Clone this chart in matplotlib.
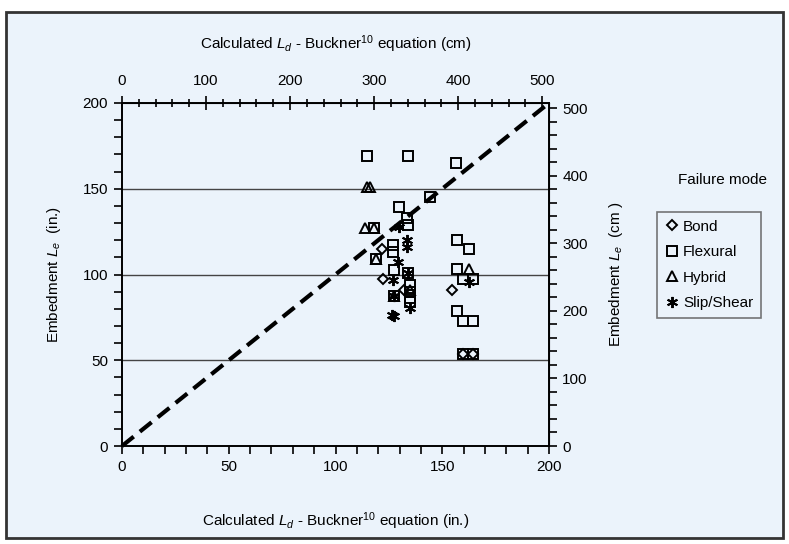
import matplotlib
matplotlib.use("Agg")
import matplotlib.pyplot as plt
from matplotlib import ticker
from matplotlib.patches import Rectangle

plt.rcParams['font.family'] = ['Liberation Sans', 'DejaVu Sans']
plt.rcParams['mathtext.fontset'] = 'custom'
plt.rcParams['mathtext.rm'] = 'Liberation Sans'
plt.rcParams['mathtext.it'] = 'Liberation Sans:italic'

CM_PER_IN = 2.54

# calculated development length (in.) vs. embedment (in.), grouped by failure mode
bond_x = [122.0, 122.3, 132.3, 154.8, 159.8, 164.5]
bond_y = [114.9, 97.1, 91.1, 90.8, 53.8, 53.8]

flex_x = [114.6, 133.9, 156.4, 144.2, 129.7, 133.3, 134.1, 118.1, 127.0, 127.0,
          118.9, 127.3, 134.0, 134.7, 134.7, 134.7, 134.7, 127.5, 157.0, 162.3,
          157.0, 159.8, 164.5, 157.0, 159.8, 164.5, 159.8, 164.5]
flex_y = [169.3, 169.3, 164.9, 145.1, 139.2, 132.8, 128.9, 127.0, 117.3, 113.4,
          109.1, 102.7, 100.6, 94.0, 90.0, 86.5, 84.0, 87.2, 120.2, 114.9,
          103.1, 97.3, 97.3, 79.0, 73.0, 73.0, 53.8, 53.8]

hyb_x = [114.6, 116.1, 113.8, 118.1, 118.9, 162.3, 127.5, 134.7]
hyb_y = [151.0, 151.0, 127.0, 127.0, 109.1, 103.1, 87.5, 91.0]

slip_x = [129.8, 133.3, 133.3, 129.4, 127.0, 134.8, 127.3, 126.5, 162.3, 134.0, 127.5]
slip_y = [127.9, 120.3, 116.3, 107.5, 96.9, 80.4, 75.9, 76.5, 95.9, 100.6, 87.6]

fig = plt.figure(figsize=(7.89, 5.44), dpi=100, facecolor='white')
fig.patches.append(Rectangle((6 / 789, 6 / 544), 777 / 789, 526 / 544,
                             transform=fig.transFigure, facecolor='#ebf3fb',
                             edgecolor='#333333', linewidth=2, zorder=-10))

ax = fig.add_axes([122 / 789, 1 - 446 / 544, 427 / 789, 343 / 544])
ax.set_facecolor('#ebf3fb')
ax.set_xlim(0, 200)
ax.set_ylim(0, 200)

for g in [50, 100, 150]:
    ax.axhline(g, color='#444444', linewidth=1, zorder=1)

ax.plot([0, 200], [0, 200], color='black', linewidth=3, dashes=(3.6, 1.9),
        zorder=2, clip_on=False)

mk = dict(linestyle='none', markerfacecolor='none', markeredgecolor='black',
          markeredgewidth=1.4, zorder=3)
ax.plot(bond_x, bond_y, marker='D', markersize=5.5, label='Bond', **mk)
ax.plot(flex_x, flex_y, marker='s', markersize=6.5, label='Flexural', **mk)
ax.plot(hyb_x, hyb_y, marker='^', markersize=7, label='Hybrid', **mk)
ax.plot(slip_x, slip_y, marker=(6, 2, 0), markersize=8, label='Slip/Shear', **mk)

ax.xaxis.set_major_locator(ticker.MultipleLocator(50))
ax.xaxis.set_minor_locator(ticker.MultipleLocator(10))
ax.yaxis.set_major_locator(ticker.MultipleLocator(50))
ax.yaxis.set_minor_locator(ticker.MultipleLocator(10))
ax.tick_params(which='both', direction='out', length=6, width=1.2, labelsize=11)
ax.tick_params(which='major', pad=4)
for s in ax.spines.values():
    s.set_linewidth(1.4)

ax.set_xlabel('Calculated $L_d$ - Buckner$^{10}$ equation (in.)', fontsize=11, labelpad=26)
ax.set_ylabel('Embedment $L_e$  (in.)', fontsize=11, labelpad=14)

top = ax.secondary_xaxis('top', functions=(lambda v: v * CM_PER_IN, lambda v: v / CM_PER_IN))
top.xaxis.set_major_locator(ticker.MultipleLocator(100))
top.xaxis.set_minor_locator(ticker.MultipleLocator(20))
top.tick_params(which='major', direction='inout', length=10, width=1.2, labelsize=11, pad=6)
top.tick_params(which='minor', direction='inout', length=6, width=1.2)
top.set_xlabel('Calculated $L_d$ - Buckner$^{10}$ equation (cm)', fontsize=11, labelpad=18)

right = ax.secondary_yaxis('right', functions=(lambda v: v * CM_PER_IN, lambda v: v / CM_PER_IN))
right.yaxis.set_major_locator(ticker.MultipleLocator(100))
right.yaxis.set_minor_locator(ticker.MultipleLocator(20))
right.tick_params(which='both', direction='out', length=6, width=1.2, labelsize=11)
right.set_ylabel('Embedment $L_e$  (cm )', fontsize=11, labelpad=14)

fig.text(722 / 789, 1 - 180 / 544, 'Failure mode', fontsize=11, ha='center', va='center')
leg = ax.legend(loc='upper left', bbox_to_anchor=(657 / 789, 1 - 212 / 544),
                bbox_transform=fig.transFigure, fontsize=11, frameon=True,
                fancybox=False, borderpad=0.5, handletextpad=0.2,
                handlelength=1.0, labelspacing=0.75, borderaxespad=0)
leg.get_frame().set_edgecolor('#555555')
leg.get_frame().set_facecolor('#ebf3fb')
leg.get_frame().set_linewidth(1.2)

fig.savefig('out.png', dpi=100)
